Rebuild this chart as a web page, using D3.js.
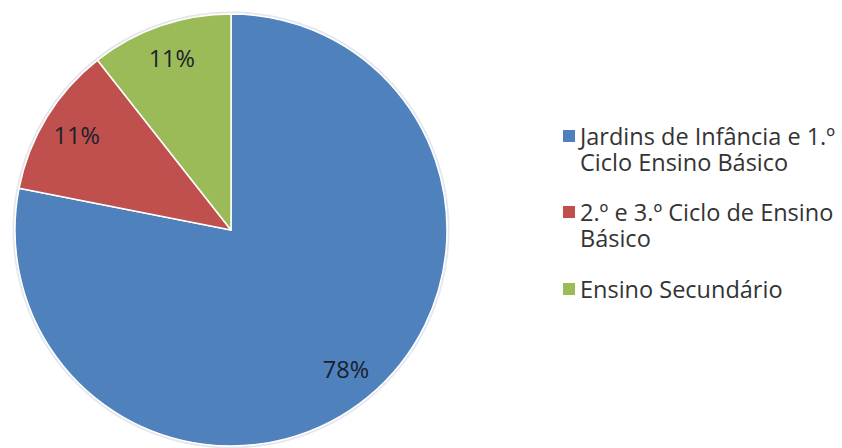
<!DOCTYPE html>
<html>
<head>
<meta charset="utf-8">
<script src="https://cdn.jsdelivr.net/npm/d3@7"></script>
<style>
  body { margin: 0; background: #fff; }
  svg { display: block; }
</style>
</head>
<body>
<svg id="chart"></svg>
<script>
// Dados
const categories = [
    ["Jardins de Infância e 1.º", "Ciclo Ensino Básico"],
    ["2.º e 3.º Ciclo de Ensino", "Básico"],
    ["Ensino Secundário"]
];
const values = [78.1, 11.3, 10.6];
const pctLabels = ["78%", "11%", "11%"];
const colors = ["#4F81BD", "#C0504D", "#9BBB59"];

const width = 842;
const height = 448;
const cx = 231, cy = 230, radius = 216;
const font = "'Open Sans', Lato, sans-serif";

const svg = d3.select("#chart")
    .attr("width", width)
    .attr("height", height);

const g = svg.append("g")
    .attr("transform", `translate(${cx}, ${cy})`);

// halo suave
g.append("circle")
    .attr("r", radius + 1.5)
    .attr("fill", "none")
    .attr("stroke", "#e4e7ee")
    .attr("stroke-width", 2);

const pie = d3.pie().sort(null).value(d => d);
const arcs = pie(values);

const arc = d3.arc().innerRadius(0).outerRadius(radius);
const labelArc = d3.arc().innerRadius(181).outerRadius(181);

g.selectAll(".slice")
    .data(arcs)
    .enter()
    .append("path")
    .attr("class", "slice")
    .attr("d", arc)
    .attr("fill", (d, i) => colors[i])
    .attr("stroke", "#fff")
    .attr("stroke-width", 1.5)
    .attr("stroke-linejoin", "round");

g.selectAll(".pct")
    .data(arcs)
    .enter()
    .append("text")
    .attr("class", "pct")
    .attr("transform", d => `translate(${labelArc.centroid(d)})`)
    .attr("text-anchor", "middle")
    .attr("dy", "0.36em")
    .attr("font-family", font)
    .attr("font-size", 23.5)
    .attr("fill", "#1b1f2a")
    .text((d, i) => pctLabels[i]);

// Legenda
const legendX = 563;
const baselines = [145, 221, 298];
const lineH = 26;

const legend = svg.append("g")
    .attr("font-family", font)
    .attr("font-size", 23.5)
    .attr("fill", "#333");

categories.forEach((lines, i) => {
    legend.append("rect")
        .attr("x", legendX)
        .attr("y", baselines[i] - 15)
        .attr("width", 12)
        .attr("height", 12)
        .attr("fill", colors[i]);
    const t = legend.append("text")
        .attr("x", legendX + 17)
        .attr("y", baselines[i]);
    lines.forEach((line, j) => {
        t.append("tspan")
            .attr("x", legendX + 17)
            .attr("y", baselines[i] + j * lineH)
            .text(line);
    });
});
</script>
</body>
</html>
